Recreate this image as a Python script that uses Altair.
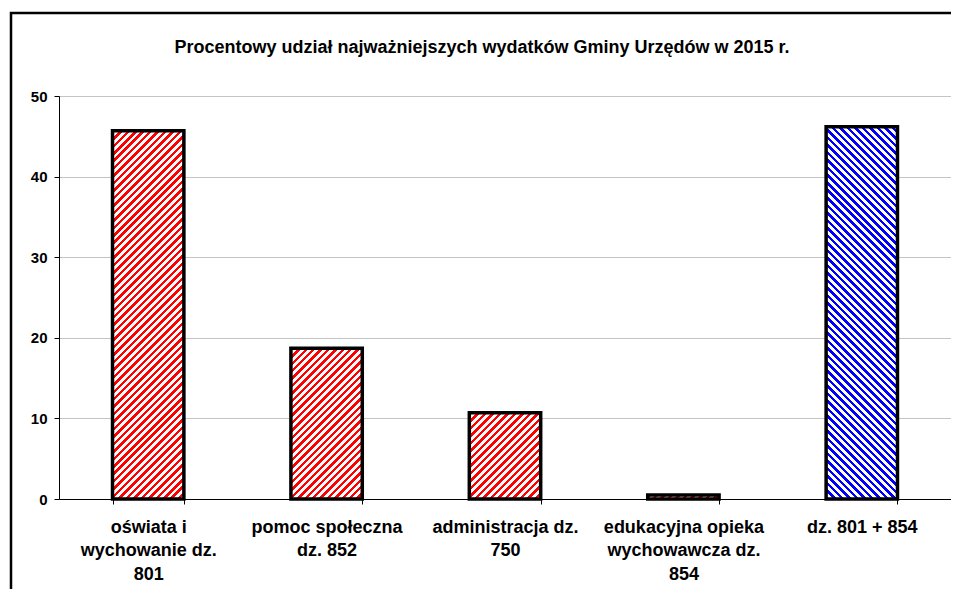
import altair as alt
import pandas as pd

# ---- data ----
categories = [
    "oświata i|wychowanie dz.|801",
    "pomoc społeczna|dz. 852",
    "administracja dz.|750",
    "edukacyjna opieka|wychowawcza dz.|854",
    "dz. 801 + 854",
]
values = [45.7, 18.7, 10.7, 0.5, 46.2]
hatch_colors = ["#FF0000", "#FF0000", "#FF0000", "#FF0000", "#0000FF"]
hatch_dirs = ["/", "/", "/", "/", "\\"]
y_ticks = [0, 10, 20, 30, 40, 50]
title_text = "Procentowy udział najważniejszych wydatków Gminy Urzędów w 2015 r."

# ---- layout ----
W, H = 892, 403
PAD_IN, PAD_OUT = 0.6, 0.3
FONT = "Liberation Sans"
step = W / (len(categories) - PAD_IN + 2 * PAD_OUT)
bar_w = step * (1 - PAD_IN)
PERIOD = 7.5
RED_FRAC = 0.47

df = pd.DataFrame({"cat": categories, "val": values})


def hatch(w, h, color, direction):
    L = w + h
    n = max(1, int(round(L / PERIOD)))
    k = L / (w * w + h * h)
    stops = []
    for i in range(n):
        a = i / n
        b = (i + RED_FRAC) / n
        c = (i + 1) / n
        stops += [
            {"offset": a, "color": color},
            {"offset": b, "color": color},
            {"offset": b, "color": "#FFFFFF"},
            {"offset": c, "color": "#FFFFFF"},
        ]
    if direction == "/":
        return {"gradient": "linear", "x1": 0, "y1": 0,
                "x2": w * k, "y2": h * k, "stops": stops}
    return {"gradient": "linear", "x1": 0, "y1": 1,
            "x2": w * k, "y2": 1 - h * k, "stops": stops}


x_enc = alt.X(
    "cat:N",
    sort=categories,
    scale=alt.Scale(domain=categories, paddingInner=PAD_IN, paddingOuter=PAD_OUT),
    axis=alt.Axis(
        title=None, labelAngle=0, tickBand="extent", tickSize=5,
        tickColor="#000000", domainColor="#000000", grid=False,
        labelFont=FONT, labelFontSize=18, labelFontWeight="bold",
        labelColor="#000000", labelLineHeight=23.5, labelPadding=14,
        labelExpr="split(datum.label, '|')", labelLimit=300,
    ),
)
y_enc = alt.Y(
    "val:Q",
    scale=alt.Scale(domain=[0, 50], nice=False),
    axis=alt.Axis(
        title=None, values=y_ticks, tickSize=5, tickColor="#000000",
        domainColor="#000000", gridColor="#c4c4c4",
        labelFont=FONT, labelFontSize=15, labelFontWeight="bold",
        labelColor="#000000", labelPadding=7,
    ),
)

layers = []
for i, cat in enumerate(categories):
    h = values[i] * H / 50.0
    layers.append(
        alt.Chart(df)
        .transform_filter(alt.datum.cat == cat)
        .mark_bar(fill=hatch(bar_w, h, hatch_colors[i], hatch_dirs[i]),
                  stroke="#000000", strokeWidth=3.5, strokeJoin="miter")
        .encode(x=x_enc, y=y_enc)
    )

one = alt.Data(values=[{"t": title_text}])
title_mark = alt.Chart(one).mark_text(
    font=FONT, fontSize=18, fontWeight="bold", color="#000000",
    align="center", baseline="alphabetic",
).encode(text="t:N", x=alt.value(423), y=alt.value(-43))

frame = alt.Chart(one).mark_rect(
    fill="transparent", stroke="#000000", strokeWidth=2.5
).encode(x=alt.value(-48), x2=alt.value(1100), y=alt.value(-83), y2=alt.value(800))

chart = (
    alt.layer(frame, *layers, title_mark)
    .properties(
        width=W, height=H,
        autosize=alt.AutoSizeParams(type="none"),
        padding={"left": 51, "top": 88, "right": 0, "bottom": 90},
    )
    .configure_view(stroke="#a0a0a0", strokeWidth=1)
    .configure(background="#ffffff")
)

chart.save("out.html", embed_options={"renderer": "svg", "actions": False})
